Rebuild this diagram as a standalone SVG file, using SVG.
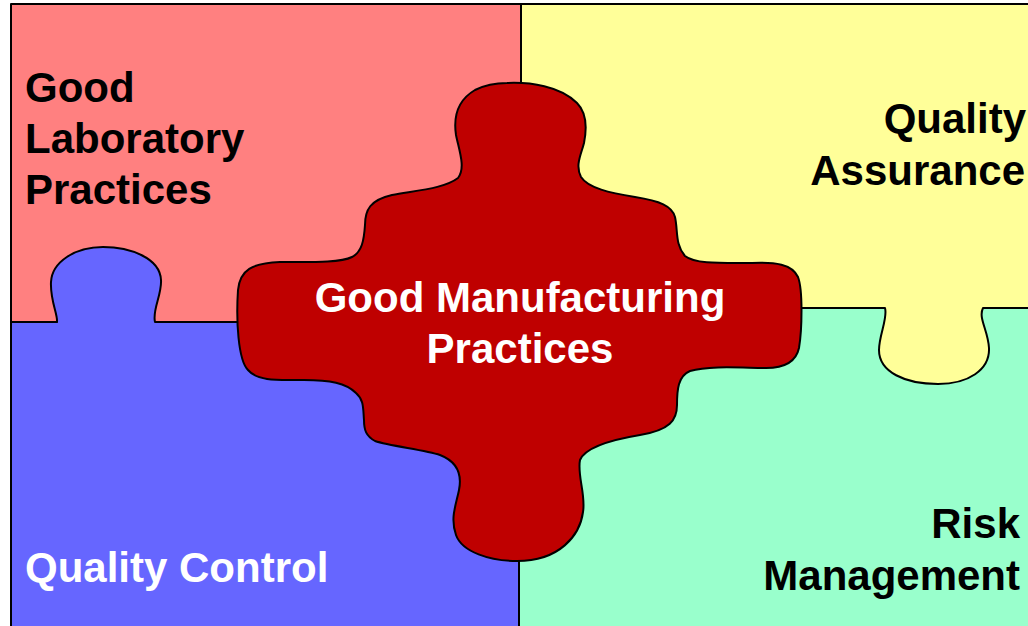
<svg xmlns="http://www.w3.org/2000/svg" width="1028" height="626" viewBox="0 0 1028 626">
<style>
.piece{stroke:#000;stroke-width:2;stroke-linejoin:round}
.lbl{font-family:"Liberation Sans",Arial,sans-serif;font-weight:bold;font-size:42px}
.dark{fill:#000}
.light{fill:#fff}
</style>
<rect x="0" y="0" width="1028" height="626" fill="#fff"/>
<g id="glp">
<rect class="piece" x="11" y="4" width="510" height="318" fill="#FF8080"/>
<text class="lbl dark" x="25" y="102">Good</text>
<text class="lbl dark" x="25" y="153">Laboratory</text>
<text class="lbl dark" x="25" y="204">Practices</text>
</g>
<g id="qc">
<path class="piece" fill="#6666FF" d="M 11,322 H 57 C 58,315 50,300 51,282 C 52,262 75,247 103,247 C 130,247 160,258 161,280 C 162,295 152,310 155,322 H 519 V 632 H 11 Z"/>
<text class="lbl light" x="25" y="582">Quality Control</text>
</g>
<g id="rm">
<rect class="piece" x="519" y="308" width="510" height="324" fill="#99FFCC"/>
<text class="lbl dark" x="1020" y="538" text-anchor="end">Risk</text>
<text class="lbl dark" x="1020" y="590" text-anchor="end">Management</text>
</g>
<g id="qa">
<path class="piece" fill="#FFFF99" d="M 521,4 H 1029 V 308 H 983 C 978,318 988,330 989,348 C 990,370 968,384 938,384 C 905,384 879,372 879,350 C 879,335 888,318 885,308 H 521 Z"/>
<text class="lbl dark" x="1026" y="133" text-anchor="end">Quality</text>
<text class="lbl dark" x="1025" y="185" text-anchor="end">Assurance</text>
</g>
<g id="gmp">
<path class="piece" fill="#BF0000" d="M 507,83 C 530,82 560,86 577,103 C 587,113 587,128 584,143 C 581,155 575,165 581,177 C 588,188 610,193 635,197 C 660,201 672,206 675,217 C 678,230 675,245 685,256 C 695,264 720,263 752,263 C 775,262 792,264 798,277 C 803,290 802,330 799,348 C 796,362 785,368 766,368 C 745,368 710,365 690,371 C 678,376 677,390 677,405 C 677,420 670,430 640,435 C 610,440 585,448 580,460 C 577,475 586,495 583,512 C 580,535 560,561 517,561 C 490,561 462,552 456,535 C 450,518 456,505 459,490 C 462,475 458,462 440,455 C 425,450 390,446 375,441 C 366,436 364,430 364,420 C 363,408 364,400 356,393 C 346,383 330,380 304,380 C 280,380 258,382 248,370 C 238,360 236,320 238,290 C 240,270 252,263 280,262 C 310,262 340,263 352,257 C 362,252 364,240 365,225 C 365,210 370,200 392,195 C 420,190 445,188 458,178 C 466,168 459,150 456,135 C 453,115 458,100 475,90 C 485,85 495,83 507,83 Z"/>
<text class="lbl light" x="520" y="312" text-anchor="middle">Good Manufacturing</text>
<text class="lbl light" x="520" y="363" text-anchor="middle">Practices</text>
</g>
<g id="connectors"/>
</svg>
